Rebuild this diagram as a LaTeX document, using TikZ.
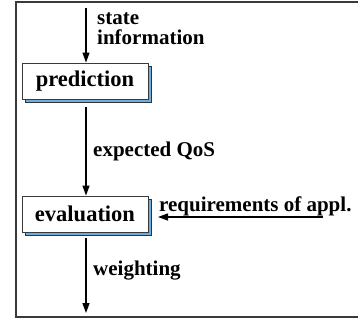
\documentclass[tikz,border=0pt]{standalone}
\usepackage{fontspec}
\setmainfont{Liberation Serif}
\usetikzlibrary{arrows.meta}
\definecolor{shadowblue}{HTML}{6AAEE6}
\definecolor{framegray}{HTML}{3A3A3A}
\tikzset{
  flowbox/.style={draw=framegray, line width=0.9pt, fill=white,
    minimum width=126pt, minimum height=36pt, inner sep=0pt,
    font=\fontsize{22.5}{24}\selectfont\bfseries},
  boxshadow/.style={draw=black!80, line width=0.8pt, fill=shadowblue,
    minimum width=126pt, minimum height=36pt, inner sep=0pt},
  flowarrow/.style={line width=1.3pt, -{Triangle[length=10pt, width=7pt]}},
  flowlabel/.style={anchor=base west, inner sep=0pt,
    font=\fontsize{21}{22}\selectfont\bfseries},
}
\begin{document}
\begin{tikzpicture}[x=1pt, y=-1pt]
  \useasboundingbox (0,0) rectangle (358,323);
  % outer frame (right side runs off the page)
  \draw[framegray, line width=1.4pt] (366,2) -- (16,2) -- (16,317) -- (366,317);

  % processing boxes with offset shadows
  \node[boxshadow] (predsh) at (88,84) {};
  \node[flowbox] (pred) at (85,81) {prediction};
  \node[boxshadow] (evalsh) at (88,217) {};
  \node[flowbox] (eval) at (85,214) {evaluation};

  % inputs and outputs
  \coordinate (in) at (86,8);
  \coordinate (out) at (86,313);
  \coordinate (req) at (323,217);

  \draw[flowarrow] (in) -- (pred.north -| in);
  \draw[flowarrow] (pred.south -| in) ++(0,8) -- (eval.north -| in);
  \draw[flowarrow] (eval.south -| in) ++(0,6) -- (out);
  \draw[flowarrow] (req) -- (158,217) coordinate (reqend);

  % labels
  \node[flowlabel] (lstate) at (97,25) {state};
  \node[flowlabel] (linfo) at (97,45) {information};
  \node[flowlabel] (lqos) at (93,157) {expected QoS};
  \node[flowlabel] (lreq) at (159,211) {requirements of appl.};
  \node[flowlabel] (lweight) at (93,275) {weighting};
\end{tikzpicture}
\end{document}
